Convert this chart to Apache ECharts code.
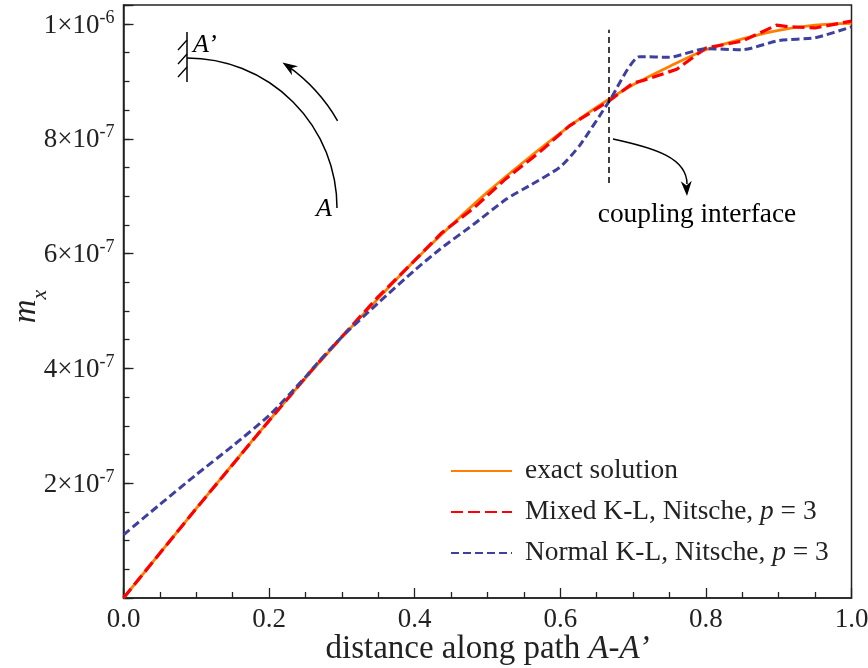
<!DOCTYPE html>
<html><head><meta charset="utf-8">
<script src="https://cdn.jsdelivr.net/npm/echarts@6/dist/echarts.min.js"></script>
<style>html,body{margin:0;padding:0;background:#fff}#c{width:868px;height:668px}</style>
</head><body><div id="c"></div>
<script>
// values of m_x in units of 1e-6
const exactX = [0,0.05,0.10,0.15,0.20,0.25,0.30,0.35,0.40,0.45,0.50,0.55,0.60,0.65,0.70,0.75,0.80,0.85,0.90,0.95,1.00];
const exactY = [0,0.078,0.156,0.233,0.309,0.383,0.454,0.522,0.588,0.649,0.707,0.760,0.810,0.855,0.894,0.926,0.955,0.974,0.989,0.998,1.001];

const mixedX = [0,0.10,0.20,0.262,0.35,0.40,0.437,0.48,0.525,0.57,0.612,0.667,0.70,0.715,0.76,0.80,0.85,0.897,0.915,0.95,1.00];
const mixedY = [0,0.156,0.309,0.402,0.525,0.588,0.636,0.678,0.730,0.775,0.822,0.866,0.897,0.902,0.921,0.958,0.970,0.998,0.995,0.993,1.005];

const normalX = [0,0.05,0.10,0.15,0.20,0.25,0.267,0.30,0.35,0.40,0.435,0.48,0.526,0.56,0.60,0.627,0.667,0.709,0.75,0.80,0.85,0.90,0.95,1.00];
const normalY = [0.110,0.163,0.215,0.265,0.318,0.385,0.410,0.455,0.514,0.571,0.608,0.650,0.695,0.720,0.751,0.789,0.865,0.943,0.942,0.957,0.955,0.971,0.976,0.995];

const seriesNames = ['exact solution','Mixed K-L, Nitsche, p = 3','Normal K-L, Nitsche, p = 3'];
const legendRich = ['{t|exact solution}','{t|Mixed K-L, Nitsche, }{i|p}{t| = 3}','{t|Normal K-L, Nitsche, }{i|p}{t| = 3}'];

const xTickVals = [0,0.2,0.4,0.6,0.8,1.0];
const xTickLabels = ['0.0','0.2','0.4','0.6','0.8','1.0'];
const yTickVals = [0.2,0.4,0.6,0.8,1.0];
const yTickMant = ['2','4','6','8','1'];
const yTickExp = ['-7','-7','-7','-7','-6'];

const interfaceX = 0.667;
const interfaceY = [0.723, 0.99];

const FONT = "'Liberation Serif','Times New Roman',serif";
const INK = '#222';

function zip(xs, ys){ return xs.map((x,i)=>[x, ys[i]]); }
function findIdx(arr, v){ for (let i=0;i<arr.length;i++){ if (Math.abs(arr[i]-v)<1e-9) return i; } return -1; }

function arrowHead(tx, ty, dx, dy, len, w){
  const n = Math.hypot(dx,dy); dx/=n; dy/=n;
  const px = -dy, py = dx;
  const bx = tx - dx*len, by = ty - dy*len;
  const nx = tx - dx*len*0.7, ny = ty - dy*len*0.7;
  return [[tx,ty],[bx+px*w,by+py*w],[nx,ny],[bx-px*w,by-py*w]];
}

const chart = echarts.init(document.getElementById('c'));

const cx0 = 187, cy0 = 208;
const aTh = -0.99, aR = 174;
const aTip = [cx0 + aR*Math.cos(aTh), cy0 + aR*Math.sin(aTh)];
const aDir = [Math.sin(aTh), -Math.cos(aTh)];

const graphics = [
  {type:'line', shape:{x1:187,y1:32,x2:187,y2:82}, style:{stroke:'#000',lineWidth:1.5}},
  {type:'line', shape:{x1:178,y1:50,x2:187,y2:40}, style:{stroke:'#000',lineWidth:1.3}},
  {type:'line', shape:{x1:178,y1:64,x2:187,y2:54}, style:{stroke:'#000',lineWidth:1.3}},
  {type:'line', shape:{x1:178,y1:77,x2:187,y2:67}, style:{stroke:'#000',lineWidth:1.3}},
  {type:'arc', shape:{cx:cx0,cy:cy0,r:150,startAngle:-Math.PI/2,endAngle:0,clockwise:true}, style:{stroke:'#000',lineWidth:1.5,fill:null}},
  {type:'arc', shape:{cx:cx0,cy:cy0,r:aR,startAngle:-0.95,endAngle:-0.525,clockwise:true}, style:{stroke:'#000',lineWidth:1.5,fill:null}},
  {type:'polygon', shape:{points:arrowHead(aTip[0],aTip[1],aDir[0],aDir[1],15,5.5)}, style:{fill:'#000'}},
  {type:'text', style:{text:'A\u2019', x:193, y:45, fontFamily:FONT, fontStyle:'italic', fontSize:26, fill:'#000', verticalAlign:'middle', align:'left'}},
  {type:'text', style:{text:'A', x:332, y:209, fontFamily:FONT, fontStyle:'italic', fontSize:26, fill:'#000', verticalAlign:'middle', align:'right'}},
  {type:'bezierCurve', shape:{x1:613,y1:139,cpx1:655,cpy1:148,cpx2:687,cpy2:158,x2:687,y2:184}, style:{stroke:'#000',lineWidth:1.5,fill:null}},
  {type:'polygon', shape:{points:arrowHead(687,196,0.05,1,15,5.5)}, style:{fill:'#000'}},
  {type:'text', style:{text:'coupling interface', x:697, y:215, fontFamily:FONT, fontSize:27.4, fill:'#000', verticalAlign:'middle', align:'center'}}
];

const option = {
  backgroundColor:'#fff',
  animation:false,
  grid:{left:123.5, right:16.5, top:5, bottom:70, show:true, borderColor:INK, borderWidth:1.5, containLabel:false, outerBoundsMode:'none'},
  legend:{
    orient:'vertical', left:450, top:456, padding:0, itemWidth:61, itemHeight:14, itemGap:11,
    data:seriesNames,
    itemStyle:{opacity:0},
    formatter:function(name){ return legendRich[seriesNames.indexOf(name)]; },
    textStyle:{fontFamily:FONT, fontSize:27.4, color:INK, padding:[0,0,0,8], lineHeight:30,
      rich:{t:{fontFamily:FONT,fontSize:27.4,color:INK,lineHeight:30}, i:{fontFamily:FONT,fontSize:27.4,fontStyle:'italic',color:INK,lineHeight:30}}}
  },
  xAxis:{
    type:'value', min:0, max:1, interval:0.2,
    name:'{t|distance along path }{i|A-A\u2019}', nameLocation:'middle', nameGap:35, nameMoveOverlap:false,
    nameTextStyle:{verticalAlign:'top', rich:{t:{fontFamily:FONT,fontSize:33,color:INK}, i:{fontFamily:FONT,fontSize:33,fontStyle:'italic',color:INK}}},
    axisLine:{show:true, lineStyle:{color:INK, width:1.5}},
    axisTick:{show:true, inside:true, length:10, lineStyle:{color:INK, width:1.3}},
    minorTick:{show:true, splitNumber:4, length:6, lineStyle:{color:INK, width:1.3}},
    splitLine:{show:false},
    axisLabel:{margin:8, fontFamily:FONT, fontSize:27, color:INK,
      formatter:function(v){ const i=findIdx(xTickVals,v); return i<0?'':xTickLabels[i]; }}
  },
  yAxis:[{
    type:'value', min:0, max:1.033, interval:0.2,
    name:'{i|m}{s|x}', nameLocation:'middle', nameGap:78, nameRotate:90, nameMoveOverlap:false,
    nameTextStyle:{padding:[0,10,0,0], rich:{i:{fontFamily:FONT,fontSize:33,fontStyle:'italic',color:INK,lineHeight:36,verticalAlign:'top'}, s:{fontFamily:FONT,fontSize:22,fontStyle:'italic',color:INK,lineHeight:22,verticalAlign:'bottom', padding:[0,0,-6,0]}}},
    axisLine:{show:true, lineStyle:{color:INK, width:1.5}},
    axisTick:{show:true, inside:true, length:10, lineStyle:{color:INK, width:1.3}},
    minorTick:{show:false},
    splitLine:{show:false},
    axisLabel:{margin:9, fontFamily:FONT, fontSize:27, color:INK,
      formatter:function(v){ const i=findIdx(yTickVals,v); return i<0?'':'{b|'+yTickMant[i]+'\u00d710}{s|'+yTickExp[i]+'}'; },
      rich:{b:{fontFamily:FONT,fontSize:27,color:INK,lineHeight:30,verticalAlign:'bottom'}, s:{fontFamily:FONT,fontSize:18,color:INK,lineHeight:18,verticalAlign:'top'}}}
  },{
    type:'value', min:0, max:1.033, interval:0.05, position:'left',
    axisLine:{show:false}, axisLabel:{show:false}, splitLine:{show:false},
    axisTick:{show:true, inside:true, length:6, lineStyle:{color:INK, width:1.3}}
  }],
  series:[
    {name:seriesNames[0], type:'line', data:zip(exactX,exactY), showSymbol:false, symbol:'none', smooth:0.3,
      lineStyle:{color:'#FF8000', width:2.8, type:'solid'}, itemStyle:{color:'#FF8000'}, z:2,
      markLine:{silent:true, symbol:'none', label:{show:false}, animation:false,
        lineStyle:{color:'#000', width:1.5, type:[6,4]},
        data:[[{coord:[interfaceX,interfaceY[0]]},{coord:[interfaceX,interfaceY[1]]}]]}},
    {name:seriesNames[1], type:'line', data:zip(mixedX,mixedY), showSymbol:false, symbol:'none',
      lineStyle:{color:'#FF0000', width:3.2, type:[12,5]}, itemStyle:{color:'#FF0000'}, z:3},
    {name:seriesNames[2], type:'line', data:zip(normalX,normalY), showSymbol:false, symbol:'none', smooth:0.2,
      lineStyle:{color:'#3F3F9F', width:3, type:[8,4]}, itemStyle:{color:'#3F3F9F'}, z:4}
  ],
  graphic:graphics
};
chart.setOption(option);
</script></body></html>
